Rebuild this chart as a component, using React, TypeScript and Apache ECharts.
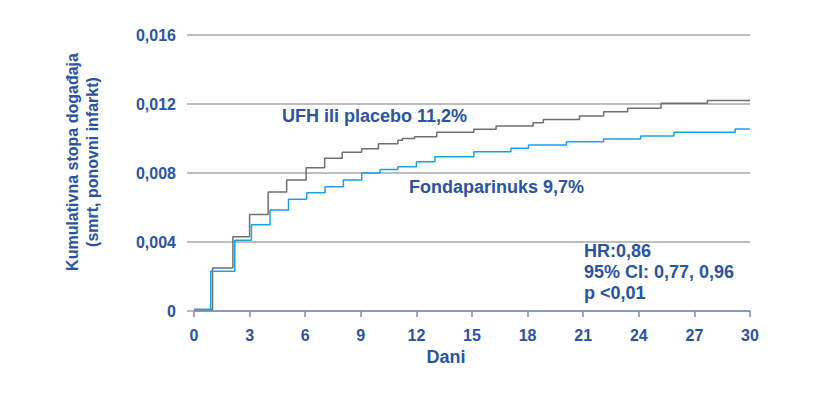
import React, { useEffect, useRef } from "react";
import * as echarts from "echarts";

const ufhDays = [0, 1.0, 2.1, 3.0, 4.0, 5.0, 6.05, 7.05, 8.0, 9.05, 9.95, 11.0, 11.25, 11.9, 13.1, 15.1, 16.3, 18.3, 18.85, 20.8, 22.1, 23.4, 25.2, 27.7, 30];
const ufhRates = [0.00008, 0.0025, 0.0043, 0.0056, 0.0069, 0.0076, 0.0083, 0.00885, 0.0092, 0.0094, 0.0097, 0.0099, 0.01, 0.0101, 0.01036, 0.01053, 0.01072, 0.01092, 0.0111, 0.0113, 0.01155, 0.01175, 0.01205, 0.0122, 0.0122];

const fondaDays = [0, 0.9, 2.2, 3.1, 4.1, 5.1, 6.08, 7.07, 8.06, 9.05, 10.04, 11.0, 12.0, 13.0, 15.1, 17.1, 18.05, 20.1, 22.1, 24.1, 25.9, 29.2, 30];
const fondaRates = [0.00008, 0.0023, 0.0041, 0.005, 0.00586, 0.00648, 0.00686, 0.0072, 0.0076, 0.008, 0.0082, 0.00836, 0.00865, 0.00894, 0.00923, 0.00943, 0.00962, 0.00981, 0.00997, 0.01014, 0.01036, 0.01055, 0.01055];

const yTicks = [0, 0.004, 0.008, 0.012, 0.016];
const xTicks = [0, 3, 6, 9, 12, 15, 18, 21, 24, 27, 30];

const ufhLabel = "UFH ili placebo 11,2%";
const fondaLabel = "Fondaparinuks 9,7%";
const statsLines = ["HR:0,86", "95% CI: 0,77, 0,96", "p <0,01"];
const yName = ["Kumulativna stopa događaja", "(smrt, ponovni infarkt)"];
const xName = "Dani";

const TEXT = "#2a53a3";
const FONT = "Liberation Sans, Arial, sans-serif";

export default function App() {
  const ref = useRef<HTMLDivElement>(null);
  useEffect(() => {
    if (!ref.current) return;
    const chart = echarts.init(ref.current, null, { renderer: "svg" });
    const zip = (xs: number[], ys: number[]) => xs.map((x, i) => [x, ys[i]]);
    chart.setOption({
      animation: false,
      backgroundColor: "#ffffff",
      grid: { left: 194, right: 71, top: 35, bottom: 86 },
      xAxis: {
        type: "value",
        min: xTicks[0],
        max: xTicks[xTicks.length - 1],
        interval: 3,
        splitLine: { show: false },
        axisLine: { show: true, lineStyle: { color: "#7d8db5", width: 1.5 } },
        axisTick: { show: true, length: 6, lineStyle: { color: "#7d8db5", width: 1.5 } },
        axisLabel: {
          margin: 16,
          color: TEXT,
          fontFamily: FONT,
          fontWeight: "bold",
          fontSize: 16,
        },
      },
      yAxis: {
        type: "value",
        min: yTicks[0],
        max: yTicks[yTicks.length - 1],
        interval: 0.004,
        axisLine: { show: false },
        axisTick: { show: true, length: 7, lineStyle: { color: "#a8a8a8", width: 1.5 } },
        splitLine: { show: true, lineStyle: { color: "#a8a8a8", width: 1.5 } },
        axisLabel: {
          margin: 18,
          color: TEXT,
          fontFamily: FONT,
          fontWeight: "bold",
          fontSize: 16,
          formatter: (v: number) => (v === 0 ? "0" : v.toFixed(3).replace(".", ",")),
        },
      },
      series: [
        {
          name: "UFH ili placebo",
          type: "line",
          step: "end",
          symbol: "none",
          data: zip(ufhDays, ufhRates),
          lineStyle: { color: "#6f6f6f", width: 1.5 },
          z: 3,
        },
        {
          name: "Fondaparinuks",
          type: "line",
          step: "end",
          symbol: "none",
          data: zip(fondaDays, fondaRates),
          lineStyle: { color: "#1ba2e4", width: 1.5 },
          z: 4,
        },
      ],
      graphic: [
        {
          type: "text",
          x: 82,
          y: 162,
          rotation: Math.PI / 2,
          style: {
            text: yName.join("\n"),
            fill: TEXT,
            font: `bold 16px ${FONT}`,
            align: "center",
            verticalAlign: "middle",
            lineHeight: 20,
          },
        },
        {
          type: "text",
          x: 446,
          y: 357,
          style: {
            text: xName,
            fill: TEXT,
            font: `bold 18px ${FONT}`,
            align: "center",
            verticalAlign: "middle",
          },
        },
        {
          type: "text",
          x: 282,
          y: 116,
          style: {
            text: ufhLabel,
            fill: TEXT,
            font: `bold 18px ${FONT}`,
            align: "left",
            verticalAlign: "middle",
          },
        },
        {
          type: "text",
          x: 409,
          y: 187,
          style: {
            text: fondaLabel,
            fill: TEXT,
            font: `bold 18px ${FONT}`,
            align: "left",
            verticalAlign: "middle",
          },
        },
        {
          type: "text",
          x: 584,
          y: 271.5,
          style: {
            text: statsLines.join("\n"),
            fill: TEXT,
            font: `bold 18px ${FONT}`,
            align: "left",
            verticalAlign: "middle",
            lineHeight: 21,
          },
        },
      ],
    });
    return () => chart.dispose();
  }, []);
  return <div ref={ref} style={{ width: 821, height: 397, margin: -8 }} />;
}
